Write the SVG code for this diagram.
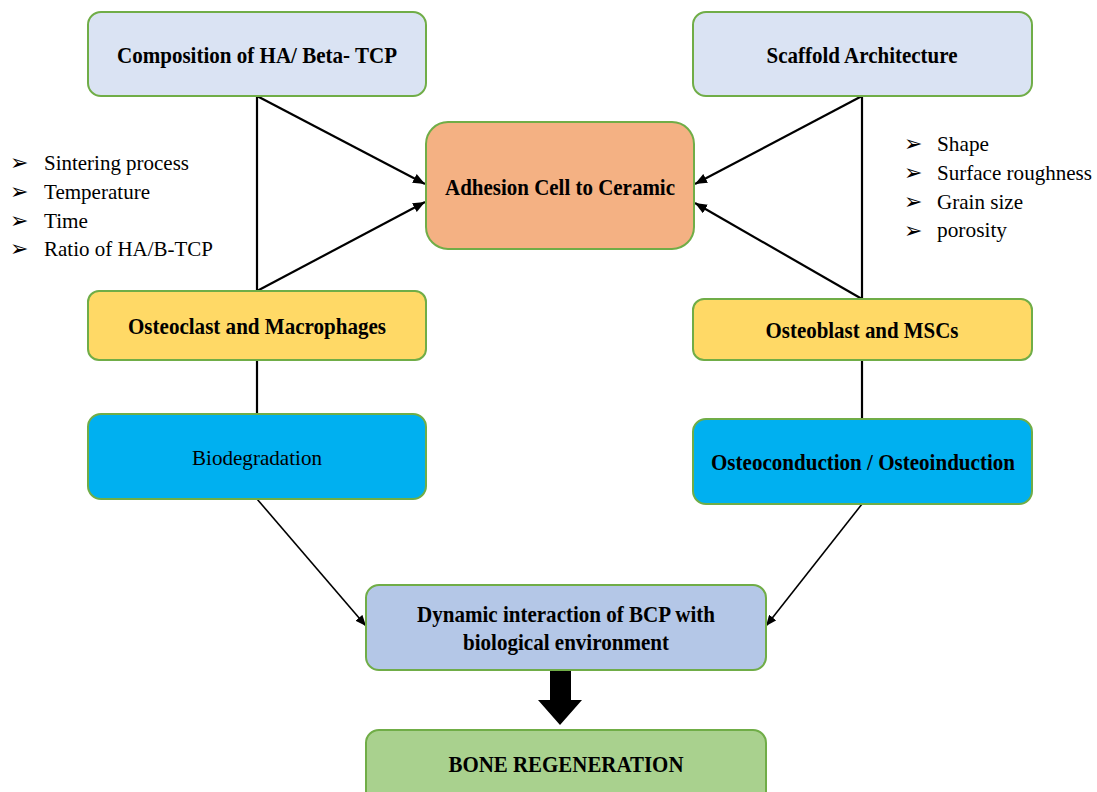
<svg xmlns="http://www.w3.org/2000/svg" width="1097" height="792" viewBox="0 0 1097 792">
<style>
.box{stroke:#70AD47;stroke-width:2}
.bt{font-family:"Liberation Serif","Times New Roman",serif;font-weight:bold;font-size:23px;fill:#000;text-anchor:middle}
.rt{font-family:"Liberation Serif","Times New Roman",serif;font-size:22px;fill:#000}
.bul{font-family:"DejaVu Sans",sans-serif;font-size:22px;fill:#000}
.ln{stroke:#000;stroke-width:2.2;fill:none}
.ln2{stroke:#000;stroke-width:1.6;fill:none}
</style>
<defs>
<marker id="ah" viewBox="0 0 12 10" refX="12" refY="5" markerWidth="12" markerHeight="10" markerUnits="userSpaceOnUse" orient="auto">
<path d="M0,0 L12,5 L0,10 Z" fill="#000"/>
</marker>
<marker id="ah2" viewBox="0 0 12 10" refX="12" refY="5" markerWidth="11" markerHeight="9" markerUnits="userSpaceOnUse" orient="auto">
<path d="M0,0 L12,5 L0,10 Z" fill="#000"/>
</marker>
</defs>
<rect width="1097" height="792" fill="#fff"/>

<g id="connectors">
<line class="ln" x1="257" y1="96" x2="257" y2="291"/>
<line class="ln" x1="257" y1="96" x2="425" y2="184" marker-end="url(#ah)"/>
<line class="ln" x1="257" y1="291" x2="425" y2="202" marker-end="url(#ah)"/>
<line class="ln" x1="862" y1="96" x2="862" y2="299"/>
<line class="ln" x1="862" y1="96" x2="695" y2="184" marker-end="url(#ah)"/>
<line class="ln" x1="862" y1="299" x2="695" y2="203" marker-end="url(#ah)"/>
<line class="ln" x1="257" y1="360" x2="257" y2="414"/>
<line class="ln" x1="862" y1="360" x2="862" y2="419"/>
<line class="ln2" x1="257" y1="499" x2="366" y2="626" marker-end="url(#ah2)"/>
<line class="ln2" x1="862" y1="504" x2="766" y2="626" marker-end="url(#ah2)"/>
<path d="M550,670 L571,670 L571,700 L582,700 L560,725 L538,700 L550,700 Z" fill="#000"/>
</g>

<g id="composition">
<rect class="box" x="88" y="12" width="338" height="84" rx="13" fill="#DAE3F3"/>
<text class="bt" x="257" y="63" textLength="280" lengthAdjust="spacingAndGlyphs">Composition of HA/ Beta- TCP</text>
</g>

<g id="scaffold">
<rect class="box" x="693" y="12" width="339" height="84" rx="13" fill="#DAE3F3"/>
<text class="bt" x="862" y="63" textLength="191" lengthAdjust="spacingAndGlyphs">Scaffold Architecture</text>
</g>

<g id="adhesion">
<rect class="box" x="426" y="122" width="268" height="127" rx="22" fill="#F4B183"/>
<text class="bt" x="560" y="195" textLength="230" lengthAdjust="spacingAndGlyphs">Adhesion Cell to Ceramic</text>
</g>

<g id="list-left">
<text class="bul" x="10" y="170">➢</text>
<text class="bul" x="10" y="199">➢</text>
<text class="bul" x="10" y="228">➢</text>
<text class="bul" x="10" y="256">➢</text>
<text class="rt" x="44" y="170" textLength="145" lengthAdjust="spacingAndGlyphs">Sintering process</text>
<text class="rt" x="44" y="199" textLength="106" lengthAdjust="spacingAndGlyphs">Temperature</text>
<text class="rt" x="44" y="228" textLength="44" lengthAdjust="spacingAndGlyphs">Time</text>
<text class="rt" x="44" y="256" textLength="169" lengthAdjust="spacingAndGlyphs">Ratio of HA/B-TCP</text>
</g>

<g id="list-right">
<text class="bul" x="904" y="151">➢</text>
<text class="bul" x="904" y="180">➢</text>
<text class="bul" x="904" y="209">➢</text>
<text class="bul" x="904" y="238">➢</text>
<text class="rt" x="937" y="151" textLength="52" lengthAdjust="spacingAndGlyphs">Shape</text>
<text class="rt" x="937" y="180" textLength="155" lengthAdjust="spacingAndGlyphs">Surface roughness</text>
<text class="rt" x="937" y="209" textLength="86" lengthAdjust="spacingAndGlyphs">Grain size</text>
<text class="rt" x="937" y="237" textLength="70" lengthAdjust="spacingAndGlyphs">porosity</text>
</g>

<g id="osteoclast">
<rect class="box" x="88" y="291" width="338" height="69" rx="11" fill="#FFD966"/>
<text class="bt" x="257" y="334" textLength="258" lengthAdjust="spacingAndGlyphs">Osteoclast and Macrophages</text>
</g>

<g id="osteoblast">
<rect class="box" x="693" y="299" width="339" height="61" rx="11" fill="#FFD966"/>
<text class="bt" x="862" y="338" textLength="193" lengthAdjust="spacingAndGlyphs">Osteoblast and MSCs</text>
</g>

<g id="biodegradation">
<rect class="box" x="88" y="414" width="338" height="85" rx="13" fill="#00B0F0"/>
<text class="rt" x="257" y="465" text-anchor="middle" textLength="130" lengthAdjust="spacingAndGlyphs">Biodegradation</text>
</g>

<g id="osteoconduction">
<rect class="box" x="693" y="419" width="339" height="85" rx="13" fill="#00B0F0"/>
<text class="bt" x="863" y="470" textLength="304" lengthAdjust="spacingAndGlyphs">Osteoconduction / Osteoinduction</text>
</g>

<g id="dynamic">
<rect class="box" x="366" y="585" width="400" height="85" rx="13" fill="#B4C7E7"/>
<text class="bt" x="566" y="622" textLength="298" lengthAdjust="spacingAndGlyphs">Dynamic interaction of BCP with</text>
<text class="bt" x="566" y="650" textLength="206" lengthAdjust="spacingAndGlyphs">biological environment</text>
</g>

<g id="bone">
<rect class="box" x="366" y="730" width="400" height="80" rx="13" fill="#A9D18E"/>
<text class="bt" x="566" y="772" textLength="235" lengthAdjust="spacingAndGlyphs">BONE REGENERATION</text>
</g>
</svg>
